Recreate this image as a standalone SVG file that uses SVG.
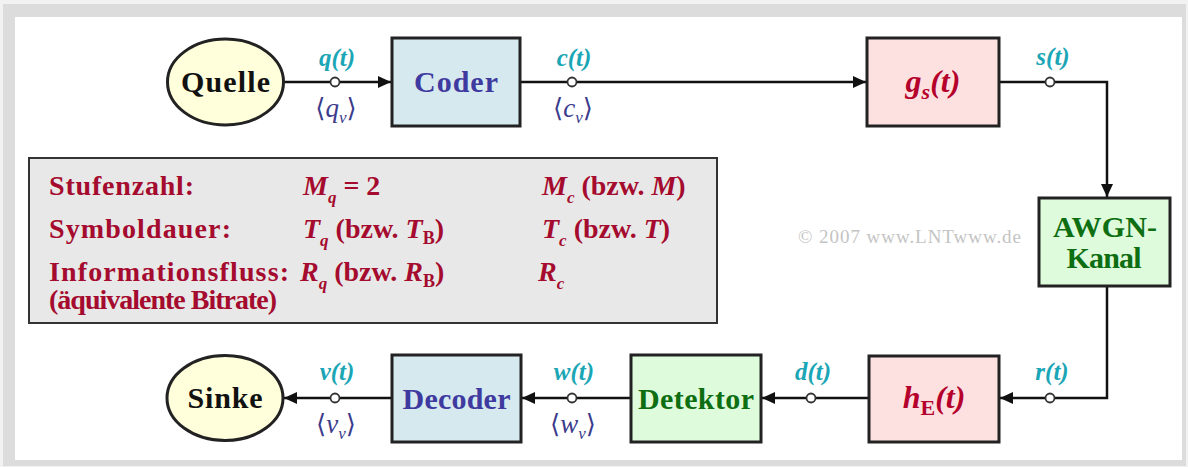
<svg xmlns="http://www.w3.org/2000/svg" width="1188" height="467" viewBox="0 0 1188 467">
  <style>
    .box { stroke: #222; stroke-width: 3; }
    .blue { fill: #d6e9ee; }
    .red { fill: #fde0e0; }
    .green { fill: #defcdc; }
    .yellow { fill: #ffffdc; }
    .name { font-family: "Liberation Serif", "Times New Roman", serif; font-weight: bold; font-size: 30px; text-anchor: middle; }
    .sig { font-family: "Liberation Serif", "Times New Roman", serif; font-style: italic; font-weight: bold; font-size: 25px; fill: #1ba6b6; text-anchor: middle; }
    .seq { font-family: "Liberation Serif", "Times New Roman", serif; font-style: italic; font-size: 27px; fill: #3c3c8c; text-anchor: middle; }
    .br { font-family: "DejaVu Serif", serif; font-style: normal; font-size: 26px; }
    .tf { font-family: "Liberation Serif", "Times New Roman", serif; font-style: italic; font-weight: bold; font-size: 32px; fill: #b5002c; text-anchor: middle; }
    .tab { font-family: "Liberation Serif", "Times New Roman", serif; font-weight: bold; font-size: 28px; fill: #a50b2e; }
    .it { font-style: italic; }
    .wire { fill: none; stroke: #111; stroke-width: 2.5; }
    .node { fill: #fff; stroke: #333; stroke-width: 1.8; }
  </style>
  <defs>
    <marker id="arrow" markerUnits="userSpaceOnUse" markerWidth="13" markerHeight="12" refX="13" refY="6" orient="auto">
      <path d="M0,0 L13,6 L0,12 z" fill="#111"/>
    </marker>
  </defs>

  <!-- frame -->
  <rect x="0" y="0" width="1188" height="467" fill="#f2f2f2"/>
  <rect x="3" y="4" width="1183" height="462" fill="#dcdcdc"/>
  <rect x="15" y="17" width="1167" height="443" fill="#ffffff"/>

  <!-- connectors -->
  <g id="connectors">
    <line class="wire" x1="284" y1="82" x2="391" y2="82" marker-end="url(#arrow)"/>
    <line class="wire" x1="520" y1="82" x2="866" y2="82" marker-end="url(#arrow)"/>
    <polyline class="wire" points="999,82 1107,82 1107,197" marker-end="url(#arrow)"/>
    <polyline class="wire" points="1107,286 1107,398 1000,398" marker-end="url(#arrow)"/>
    <line class="wire" x1="869" y1="398" x2="762" y2="398" marker-end="url(#arrow)"/>
    <line class="wire" x1="631" y1="398" x2="522" y2="398" marker-end="url(#arrow)"/>
    <line class="wire" x1="392" y1="398" x2="284" y2="398" marker-end="url(#arrow)"/>
    <circle class="node" cx="335" cy="82" r="4.5"/>
    <circle class="node" cx="572" cy="82" r="4.5"/>
    <circle class="node" cx="1050" cy="82" r="4.5"/>
    <circle class="node" cx="1050" cy="398" r="4.5"/>
    <circle class="node" cx="811" cy="398" r="4.5"/>
    <circle class="node" cx="572" cy="398" r="4.5"/>
    <circle class="node" cx="335" cy="398" r="4.5"/>
    <!-- signal labels -->
    <text class="sig" x="337" y="66">q(t)</text>
    <text class="seq" x="336" y="117"><tspan class="br">⟨</tspan>q<tspan font-size="17" dy="6">ν</tspan><tspan class="br" dy="-6">⟩</tspan></text>
    <text class="sig" x="574" y="66">c(t)</text>
    <text class="seq" x="573" y="117"><tspan class="br">⟨</tspan>c<tspan font-size="17" dy="6">ν</tspan><tspan class="br" dy="-6">⟩</tspan></text>
    <text class="sig" x="1053" y="65">s(t)</text>
    <text class="sig" x="1052" y="380">r(t)</text>
    <text class="sig" x="813" y="380">d(t)</text>
    <text class="sig" x="574" y="380">w(t)</text>
    <text class="seq" x="573" y="433"><tspan class="br">⟨</tspan>w<tspan font-size="17" dy="6">ν</tspan><tspan class="br" dy="-6">⟩</tspan></text>
    <text class="sig" x="337" y="380">v(t)</text>
    <text class="seq" x="336" y="433"><tspan class="br">⟨</tspan>v<tspan font-size="17" dy="6">ν</tspan><tspan class="br" dy="-6">⟩</tspan></text>
  </g>

  <g id="quelle">
    <ellipse class="box yellow" cx="225.5" cy="82" rx="58" ry="43" stroke-width="2.5"/>
    <text class="name" x="225.5" y="92" fill="#111" textLength="89" lengthAdjust="spacing">Quelle</text>
  </g>
  <g id="coder">
    <rect class="box blue" x="392" y="38" width="128" height="88"/>
    <text class="name" x="456" y="92" fill="#3f3aa0" textLength="84" lengthAdjust="spacing">Coder</text>
  </g>
  <g id="sender-filter">
    <rect class="box red" x="867" y="38" width="132" height="88"/>
    <text class="tf" x="933" y="92">g<tspan font-size="22" dy="7">s</tspan><tspan dy="-7">(t)</tspan></text>
  </g>
  <g id="awgn">
    <rect class="box green" x="1039" y="198" width="131" height="88"/>
    <text class="name" x="1105" y="237" fill="#0e6e12" font-size="27" textLength="104" lengthAdjust="spacing">AWGN-</text>
    <text class="name" x="1104" y="268" fill="#0e6e12" font-size="27" textLength="75" lengthAdjust="spacing">Kanal</text>
  </g>
  <g id="receiver-filter">
    <rect class="box red" x="869" y="356" width="130" height="86"/>
    <text class="tf" x="934" y="408">h<tspan font-size="22" font-style="normal" dy="7">E</tspan><tspan dy="-7">(t)</tspan></text>
  </g>
  <g id="detektor">
    <rect class="box green" x="631" y="355" width="130" height="87"/>
    <text class="name" x="696" y="409" fill="#0e6e12" textLength="116" lengthAdjust="spacing">Detektor</text>
  </g>
  <g id="decoder">
    <rect class="box blue" x="392" y="355" width="129" height="87"/>
    <text class="name" x="456.5" y="409" fill="#3f3aa0" textLength="108" lengthAdjust="spacing">Decoder</text>
  </g>
  <g id="sinke">
    <ellipse class="box yellow" cx="225" cy="398" rx="58" ry="42.5" stroke-width="2.5"/>
    <text class="name" x="225" y="408" fill="#111" textLength="75" lengthAdjust="spacing">Sinke</text>
  </g>

  <!-- parameter table -->
  <g id="table">
    <rect x="29" y="158" width="688" height="165" fill="#e8e8e8" stroke="#333" stroke-width="2"/>
    <text class="tab" x="49" y="195" textLength="145" lengthAdjust="spacing">Stufenzahl:</text>
    <text class="tab" x="49" y="238" textLength="182" lengthAdjust="spacing">Symboldauer:</text>
    <text class="tab" x="49" y="281" textLength="240" lengthAdjust="spacing">Informationsfluss:</text>
    <text class="tab" x="49" y="309" font-size="20" textLength="228" lengthAdjust="spacing">(äquivalente Bitrate)</text>

    <text class="tab" x="303" y="195"><tspan class="it">M</tspan><tspan class="it" font-size="17" dy="8">q</tspan><tspan dy="-8"> = 2</tspan></text>
    <text class="tab" x="303" y="238"><tspan class="it">T</tspan><tspan class="it" font-size="17" dy="8">q</tspan><tspan dy="-8"> (bzw. </tspan><tspan class="it">T</tspan><tspan font-size="18" dy="6">B</tspan><tspan dy="-6">)</tspan></text>
    <text class="tab" x="300" y="281"><tspan class="it">R</tspan><tspan class="it" font-size="17" dy="8">q</tspan><tspan dy="-8"> (bzw. </tspan><tspan class="it">R</tspan><tspan font-size="18" dy="6">B</tspan><tspan dy="-6">)</tspan></text>

    <text class="tab" x="542" y="195"><tspan class="it">M</tspan><tspan class="it" font-size="17" dy="8">c</tspan><tspan dy="-8"> (bzw. </tspan><tspan class="it">M</tspan><tspan>)</tspan></text>
    <text class="tab" x="542" y="238"><tspan class="it">T</tspan><tspan class="it" font-size="17" dy="8">c</tspan><tspan dy="-8"> (bzw. </tspan><tspan class="it">T</tspan><tspan>)</tspan></text>
    <text class="tab" x="538" y="281"><tspan class="it">R</tspan><tspan class="it" font-size="17" dy="8">c</tspan></text>
  </g>

  <text x="798" y="243" font-family="Liberation Serif, serif" font-size="19" fill="#c4c4c4" textLength="223" lengthAdjust="spacing">© 2007 www.LNTwww.de</text>
</svg>
